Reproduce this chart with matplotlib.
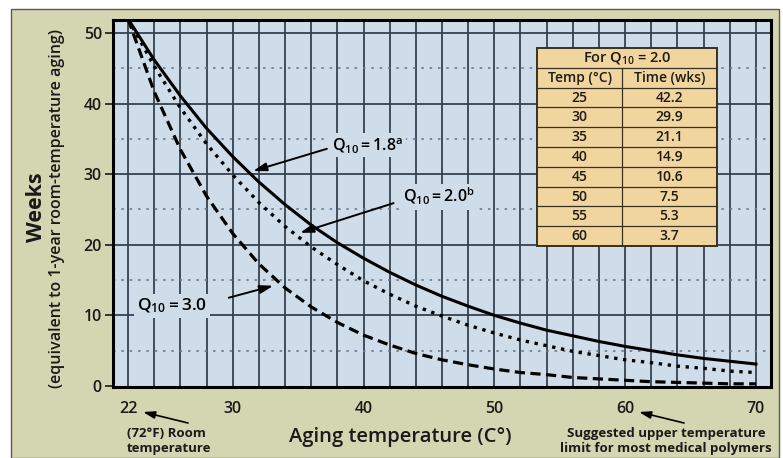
import matplotlib
matplotlib.use('Agg')
import matplotlib.pyplot as plt
import numpy as np
from matplotlib.patches import Rectangle

plt.rcParams['font.family'] = ['Open Sans', 'DejaVu Sans']
plt.rcParams['mathtext.fontset'] = 'custom'
plt.rcParams['mathtext.rm'] = 'Open Sans:semibold'
plt.rcParams['mathtext.it'] = 'Open Sans:italic'
plt.rcParams['mathtext.bf'] = 'Open Sans:bold'

# curves (weeks vs aging temperature)
temps = [22, 24, 26, 28, 30, 32, 34, 36, 38, 40, 42, 44, 46,
         48, 50, 52, 54, 56, 58, 60, 62, 64, 66, 68, 70]
weeks_q18 = [52.0, 46.2, 41.1, 36.5, 32.5, 28.9, 25.7, 22.8, 20.3, 18.1, 16.1, 14.3, 12.7,
             11.3, 10.0, 8.9, 7.9, 7.1, 6.3, 5.6, 5.0, 4.4, 3.9, 3.5, 3.1]
weeks_q20 = [52.0, 45.3, 39.4, 34.3, 29.9, 26.0, 22.6, 19.7, 17.2, 14.9, 13.0, 11.3, 9.9,
             8.6, 7.5, 6.5, 5.7, 4.9, 4.3, 3.7, 3.3, 2.8, 2.5, 2.1, 1.9]
weeks_q30 = [52.0, 41.7, 33.5, 26.9, 21.6, 17.3, 13.9, 11.2, 9.0, 7.2, 5.8, 4.6, 3.7,
             3.0, 2.4, 1.9, 1.6, 1.2, 1.0, 0.8, 0.6, 0.5, 0.4, 0.3, 0.3]

# inset table for Q10 = 2.0
tab_temp = ['25', '30', '35', '40', '45', '50', '55', '60']
tab_time = ['42.2', '29.9', '21.1', '14.9', '10.6', '7.5', '5.3', '3.7']

xticks = [22, 30, 40, 50, 60, 70]
yticks = [0, 10, 20, 30, 40, 50]

W, H = 783, 458
fig = plt.figure(figsize=(W / 100, H / 100), dpi=100)


def fx(px):
    return px / W


def fy(py):
    return 1 - py / H


def fp(px, py):
    return (px, H - py)


panel_col = '#d4d5b1'
bg_col = '#cfdcea'
grid_col = '#36414f'
ink = '#1a1a1a'

fig.patches.append(Rectangle((fx(11), 0), fx(779) - fx(11), fy(9),
                             transform=fig.transFigure, facecolor=panel_col,
                             edgecolor='#5a5a4a', lw=1.0, zorder=-5))

ax = fig.add_axes([fx(113), fy(387), fx(771) - fx(113), fy(20) - fy(387)])
ax.set_facecolor(bg_col)
ax.set_xlim(20.85, 71.15)
ax.set_ylim(-0.15, 51.85)

for x in np.arange(22, 71, 2):
    ax.axvline(x, color=grid_col, lw=1.3, zorder=1)
for y in [10, 20, 30, 40, 50]:
    ax.axhline(y, color=grid_col, lw=1.3, zorder=1)
for y in [5, 15, 25, 35, 45]:
    ax.axhline(y, color='#6c7b8c', lw=1.2, ls=(0, (1.5, 3.5)), zorder=1)

ax.plot(temps, weeks_q18, color='black', lw=2.2, zorder=3)
ax.plot(temps, weeks_q20, color='black', lw=2.4, ls=(0, (1, 1.7)), zorder=3)
ax.plot(temps, weeks_q30, color='black', lw=2.3, ls=(0, (3.2, 1.7)), zorder=3)

for s in ax.spines.values():
    s.set_linewidth(2.2)
    s.set_color('black')
    s.set_zorder(6)

ax.set_xticks(xticks)
ax.set_yticks(yticks)
ax.tick_params(axis='y', length=6, width=1.2, pad=2, labelsize=11.5, colors=ink)
ax.tick_params(axis='x', length=0, pad=10, labelsize=11.5, colors=ink)
for lab in ax.get_xticklabels() + ax.get_yticklabels():
    lab.set_fontweight('semibold')

# curve labels with arrows
arrow = dict(arrowstyle='-|>,head_length=0.8,head_width=0.25', color='black',
             lw=1.4, shrinkA=0, shrinkB=0)
box = dict(facecolor=bg_col, edgecolor='none', pad=2)
ax.annotate('', xy=(31.56, 30.45), xytext=(37.2, 33.6), arrowprops=arrow, zorder=4)
ax.text(37.6, 34.1, r'$\mathrm{Q_{10} = 1.8^{a}}$', fontsize=11.5, va='center',
        ha='left', bbox=box, zorder=4)
ax.annotate('', xy=(35.15, 21.7), xytext=(42.3, 25.9), arrowprops=arrow, zorder=4)
ax.text(43.0, 26.8, r'$\mathrm{Q_{10} = 2.0^{b}}$', fontsize=11.5, va='center',
        ha='left', bbox=box, zorder=4)
ax.annotate('', xy=(33.1, 14.2), xytext=(29.7, 12.5), arrowprops=arrow, zorder=4)
ax.text(22.7, 11.3, r'$\mathrm{Q_{10} = 3.0}$', fontsize=12.5, va='center',
        ha='left', bbox=box, zorder=4)

# inset table
tx0, tx1, tmid = (537 - 113) / 658, (717 - 113) / 658, (622 - 113) / 658
ttop, tbot = (387 - 48) / 367, (387 - 246) / 367
rh = (ttop - tbot) / 10
tab_col = '#f1d59e'
line_col = '#3a3020'
ax.add_patch(Rectangle((tx0, tbot), tx1 - tx0, ttop - tbot, transform=ax.transAxes,
                       facecolor=tab_col, edgecolor=line_col, lw=1.4, zorder=7))
for i in range(1, 10):
    yy = ttop - i * rh
    ax.plot([tx0, tx1], [yy, yy], transform=ax.transAxes, color=line_col,
            lw=0.9, zorder=8)
ax.plot([tmid, tmid], [tbot, ttop - rh], transform=ax.transAxes, color=line_col,
        lw=0.9, zorder=8)
tfont = dict(fontsize=10, fontweight='semibold', color='#1e1a14', zorder=9,
             transform=ax.transAxes, ha='center', va='center')
ax.text((tx0 + tx1) / 2, ttop - rh / 2, r'For $\mathrm{Q_{10}}$ = 2.0',
        **{**tfont, 'fontsize': 10.5})
ax.text((tx0 + tmid) / 2, ttop - 1.5 * rh, 'Temp (°C)', **tfont)
ax.text((tmid + tx1) / 2, ttop - 1.5 * rh, 'Time (wks)', **tfont)
for i, (t, w) in enumerate(zip(tab_temp, tab_time)):
    yc = ttop - (i + 2.5) * rh
    ax.text((tx0 + tmid) / 2, yc, t, **tfont)
    ax.text((tmid + tx1) / 2, yc, w, **tfont)

# axis labels
fig.text(fx(400), fy(437), 'Aging temperature (C°)', fontsize=14.5,
         fontweight='semibold', ha='center', va='center', color=ink)
fig.text(fx(37), fy(207), 'Weeks', fontsize=15.5, fontweight='bold',
         rotation=90, ha='center', va='center', color=ink)
fig.text(fx(57), fy(208), '(equivalent to 1-year room-temperature aging)',
         fontsize=11.5, fontweight='semibold', rotation=90, ha='center',
         va='center', color=ink)

# notes below the x axis
small_arrow = dict(arrowstyle='-|>,head_length=0.7,head_width=0.22', color='black',
                   lw=1.2, shrinkA=0, shrinkB=0)
ax.annotate('', xy=fp(143, 412), xytext=fp(188, 423), xycoords='figure pixels',
            textcoords='figure pixels', arrowprops=small_arrow)
fig.text(fx(127), fy(441), '(72°F) Room\ntemperature', fontsize=9.5,
         fontweight='bold', ha='left', va='center', linespacing=1.15,
         color=ink)
ax.annotate('', xy=fp(639, 412), xytext=fp(684, 423), xycoords='figure pixels',
            textcoords='figure pixels', arrowprops=small_arrow)
fig.text(fx(666), fy(441), 'Suggested upper temperature\nlimit for most medical polymers',
         fontsize=9.5, fontweight='bold', ha='center', va='center',
         linespacing=1.15, color=ink)

fig.savefig('out.png', dpi=100)
